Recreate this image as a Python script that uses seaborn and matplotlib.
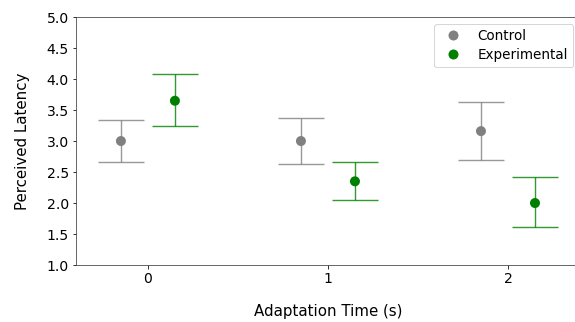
import numpy as np
import pandas as pd
import seaborn as sns
import matplotlib
matplotlib.use('Agg')
import matplotlib.pyplot as plt

# Dados
tempos = [0, 1, 2]
grupos = ['Control', 'Experimental']
media_control = [3.00, 3.00, 3.16]
inf_control = [2.66, 2.63, 2.70]
sup_control = [3.34, 3.37, 3.63]
media_exp = [3.65, 2.35, 2.00]
inf_exp = [3.24, 2.05, 1.61]
sup_exp = [4.08, 2.66, 2.42]

cores = {'Control': 'gray', 'Experimental': 'green'}
deslocamento = {'Control': -0.15, 'Experimental': 0.15}

df = pd.DataFrame({
    'tempo': tempos * 2,
    'grupo': ['Control'] * 3 + ['Experimental'] * 3,
    'media': media_control + media_exp,
    'inf': inf_control + inf_exp,
    'sup': sup_control + sup_exp,
})
df['x'] = df['tempo'] + df['grupo'].map(deslocamento)

plt.rcParams['font.family'] = ['DejaVu Sans']
fig, ax = plt.subplots(figsize=(575 / 72, 322 / 72), dpi=72)

# Barras de erro com os intervalos
for g in grupos:
    d = df[df['grupo'] == g]
    ax.errorbar(d['x'], d['media'],
                yerr=[d['media'] - d['inf'], d['sup'] - d['media']],
                fmt='none', ecolor=cores[g], alpha=0.8, capsize=23, elinewidth=1.4,
                capthick=1.4, zorder=2)

sns.scatterplot(data=df, x='x', y='media', hue='grupo', palette=cores,
                s=100, edgecolor='none', zorder=3, ax=ax)

ax.set_xlim(-0.4, 2.4)
ax.set_ylim(1.0, 5.0)
ax.set_xticks(tempos)
ax.set_xticklabels([str(t) for t in tempos])
ax.set_yticks(np.arange(1.0, 5.01, 0.5))
ax.tick_params(labelsize=14)
ax.set_xlabel('Adaptation Time (s)', fontsize=15, labelpad=18)
ax.set_ylabel('Perceived Latency', fontsize=15, labelpad=17)
for s in ax.spines.values():
    s.set_linewidth(0.8)
    s.set_color('#444444')

ax.legend(title=None, loc='upper right', fontsize=13.5, markerscale=1.0,
          labelspacing=0.35)

# O eixo continua além da borda direita, como na referência
plt.subplots_adjust(left=0.132, right=580 / 575, top=0.947, bottom=0.177)
plt.savefig('out.png', dpi=72)
